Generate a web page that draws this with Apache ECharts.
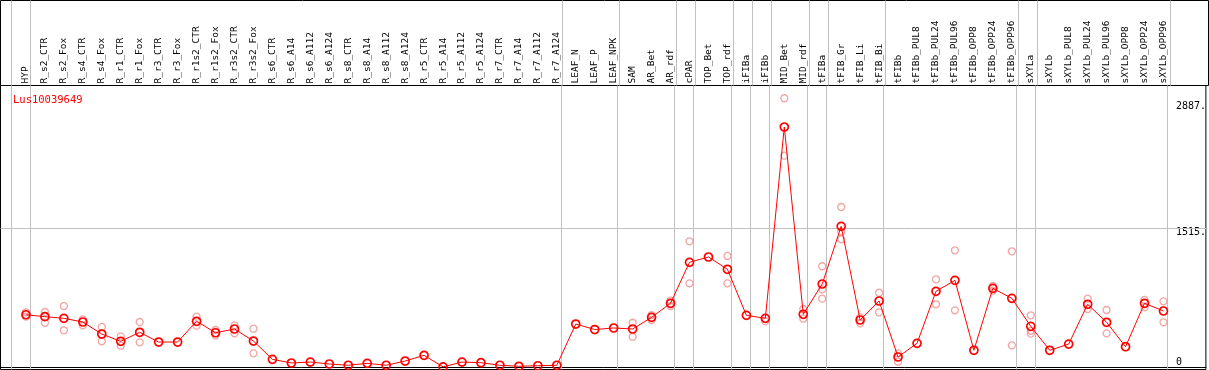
<!DOCTYPE html>
<html>
<head>
<meta charset="utf-8">
<script src="https://cdn.jsdelivr.net/npm/echarts@6/dist/echarts.min.js"></script>
<style>
  html, body { margin: 0; padding: 0; background: #fff; }
  #chart { width: 1209px; height: 370px; }
</style>
</head>
<body>
<div id="chart"></div>
<script>
// gene id shown in the corner
var geneName = 'Lus10039649';

// sample names, left to right
var categories = [
  'HYP', 'R_s2_CTR', 'R_s2_Fox', 'R_s4_CTR', 'R_s4_Fox', 'R_r1_CTR', 'R_r1_Fox', 'R_r3_CTR', 'R_r3_Fox',
  'R_r1s2_CTR', 'R_r1s2_Fox', 'R_r3s2_CTR', 'R_r3s2_Fox', 'R_s6_CTR', 'R_s6_A14', 'R_s6_A112', 'R_s6_A124',
  'R_s8_CTR', 'R_s8_A14', 'R_s8_A112', 'R_s8_A124', 'R_r5_CTR', 'R_r5_A14', 'R_r5_A112', 'R_r5_A124',
  'R_r7_CTR', 'R_r7_A14', 'R_r7_A112', 'R_r7_A124', 'LEAF_N', 'LEAF_P', 'LEAF_NPK', 'SAM', 'AR_Bet', 'AR_rdf',
  'cPAR', 'TOP_Bet', 'TOP_rdf', 'iFIBa', 'iFIBb', 'MID_Bet', 'MID_rdf', 'tFIBa', 'tFIB_Gr', 'tFIB_Li', 'tFIB_Bi',
  'tFIBb', 'tFIBb_PUL8', 'tFIBb_PUL24', 'tFIBb_PUL96', 'tFIBb_OPP8', 'tFIBb_OPP24', 'tFIBb_OPP96',
  'sXYLa', 'sXYLb', 'sXYLb_PUL8', 'sXYLb_PUL24', 'sXYLb_PUL96', 'sXYLb_OPP8', 'sXYLb_OPP24', 'sXYLb_OPP96'
];

// number of samples in each tissue group (gray separators between them)
var groupSizes = [1, 28, 3, 3, 1, 2, 1, 1, 2, 1, 3, 7, 1, 7];

// mean expression per sample
var meanValues = [
  569, 548, 530, 490, 359, 280, 378, 272, 272,
  498, 373, 414, 283, 84, 44, 54, 33,
  19, 40, 19, 65, 127, 2, 54, 47,
  19, 8, 14, 19, 468, 408, 425, 414, 541, 694,
  1140, 1198, 1064, 563, 530, 2613, 574, 904, 1532, 512, 719,
  109, 258, 824, 944, 182, 857, 748,
  443, 182, 250, 683, 487, 221, 694, 610
];

// individual replicates per sample (only where they stand apart from the mean)
var replicateValues = [
  [596, 548], [599, 482], [664, 400], [519, 454], [436, 280], [334, 232], [490, 269], [], [],
  [548, 450], [403, 345], [454, 367], [417, 149], [], [], [], [],
  [], [], [], [], [], [], [], [],
  [], [], [], [], [], [], [], [482, 330], [566, 512], [722, 664],
  [1369, 911], [], [1209, 911], [], [497], [2926, 2301], [632, 526], [1097, 846, 744], [1742, 1473, 1390], [541, 476], [809, 596],
  [149, 58], [], [955, 683], [1271, 617], [], [882, 831], [1260, 236],
  [563, 395, 363], [], [], [744, 632], [621, 367], [], [730, 650], [715, 487]
];

// right side tick labels
var tickLabels = [1515, 2887];
var zeroLabel = [0];

var yMin = -27, yMax = 3065;
// x: sample k (1-based) sits at 7 + 19*k px, grid spans 0.5..1208.5 px
var xMin = (0.5 - 7) / 19, xMax = (1208.5 - 7) / 19;

var monoFont = 'DejaVu Sans Mono';

var meanData = meanValues.map(function (v, i) { return [i + 1, v]; });
var repData = [];
replicateValues.forEach(function (reps, i) {
  reps.forEach(function (v) { repData.push([i + 1, v]); });
});

// separator positions: after the last sample of each group (and one before the first)
var separators = [4 / 19];
var acc = 0;
groupSizes.forEach(function (n) { acc += n; separators.push(acc + 4 / 19); });

var sepLines = separators.map(function (v) { return { xAxis: v }; });
var gridLineStyle = { color: '#c0c0c0', width: 1, type: 'solid' };

var chart = echarts.init(document.getElementById('chart'));
var option = {
  animation: false,
  title: {
    text: geneName,
    left: 8, top: 90,
    textStyle: { color: '#ff0000', fontSize: 10.5, fontWeight: 'normal', fontFamily: monoFont }
  },
  grid: [
    { left: 0.5, right: 0.5, top: 85.5, bottom: 0.5, show: true, borderColor: '#000', borderWidth: 1 },
    { left: 0.5, right: 0.5, top: 0.5, height: 85, show: true, borderColor: '#000', borderWidth: 1 }
  ],
  xAxis: [
    {
      type: 'value', gridIndex: 0, position: 'top', min: xMin, max: xMax,
      axisLine: { show: true, lineStyle: { color: '#000', width: 1 } },
      axisTick: { show: false },
      splitLine: { show: false },
      axisLabel: {
        show: true, rotate: 90, margin: 2,
        customValues: categories.map(function (c, i) { return i + 1; }),
        formatter: function (v) { return categories[Math.round(v) - 1] || ''; },
        fontFamily: monoFont, fontSize: 9.5, color: '#000'
      }
    },
    {
      type: 'value', gridIndex: 1, min: xMin, max: xMax, show: false
    }
  ],
  yAxis: [
    {
      type: 'value', gridIndex: 0, position: 'right', min: yMin, max: yMax,
      axisLine: { show: false }, axisTick: { show: false }, splitLine: { show: false },
      axisLabel: {
        inside: true, align: 'left', margin: 30, verticalAlign: 'top',
        customValues: tickLabels,
        formatter: function (v) { return v + '.'; },
        fontFamily: monoFont, fontSize: 10, color: '#000'
      }
    },
    {
      type: 'value', gridIndex: 0, position: 'right', min: yMin, max: yMax,
      axisLine: { show: false }, axisTick: { show: false }, splitLine: { show: false },
      axisLabel: {
        inside: true, align: 'left', margin: 30, verticalAlign: 'bottom',
        customValues: zeroLabel,
        fontFamily: monoFont, fontSize: 10, color: '#000'
      }
    },
    {
      type: 'value', gridIndex: 1, min: 0, max: 1, show: false
    }
  ],
  series: [
    {
      // separators in the label band
      type: 'line', xAxisIndex: 1, yAxisIndex: 2,
      data: meanData.map(function (d) { return [d[0], 0.5]; }),
      symbol: 'none', lineStyle: { opacity: 0 }, silent: true,
      markLine: { silent: true, symbol: ['none', 'none'], label: { show: false }, lineStyle: gridLineStyle, data: sepLines }
    },
    {
      name: 'replicates', type: 'scatter', xAxisIndex: 0, yAxisIndex: 0,
      data: repData, symbol: 'circle', symbolSize: 7, z: 2,
      itemStyle: { color: 'rgba(0,0,0,0)', borderColor: '#ef8f8f', borderWidth: 1.3 }
    },
    {
      name: 'mean', type: 'line', xAxisIndex: 0, yAxisIndex: 0,
      data: meanData, symbol: 'circle', symbolSize: 8, showAllSymbol: true, z: 3,
      lineStyle: { color: '#ff0000', width: 1 },
      itemStyle: { color: 'rgba(0,0,0,0)', borderColor: '#ff0000', borderWidth: 1.7 },
      markLine: {
        silent: true, symbol: ['none', 'none'], label: { show: false }, lineStyle: gridLineStyle, z: 1,
        data: sepLines.concat([{ yAxis: 1515 }])
      }
    }
  ]
};
chart.setOption(option);
</script>
</body>
</html>
